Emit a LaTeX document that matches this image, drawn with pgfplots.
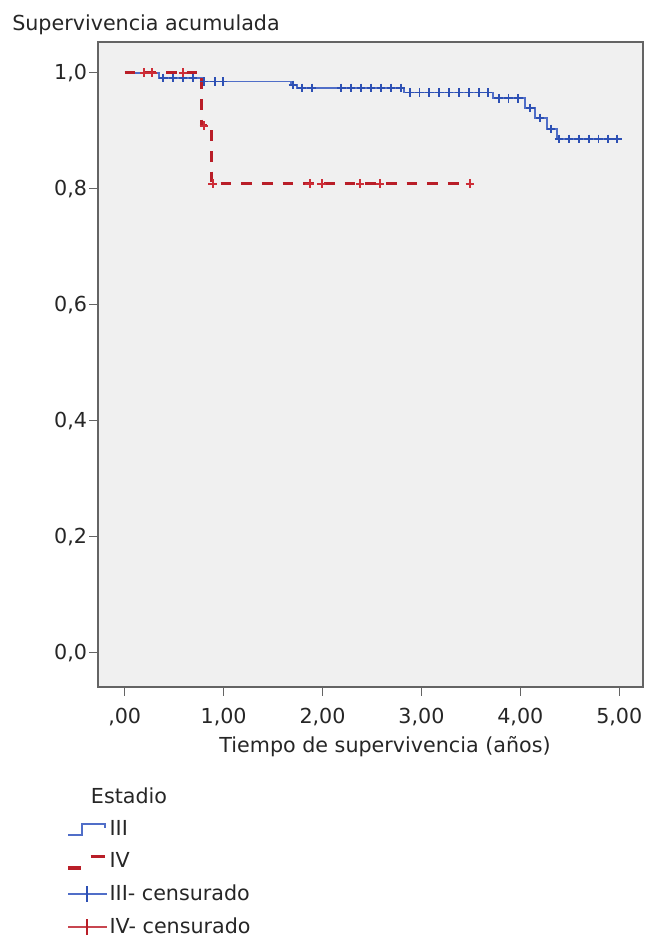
\documentclass[border=0pt]{standalone}
\usepackage{pgfplots}
\pgfplotsset{compat=1.18}
\usepackage{fontspec}
\setmainfont{DejaVu Sans}
\definecolor{bl}{RGB}{80,110,200}
\definecolor{blm}{RGB}{45,80,180}
\definecolor{rd}{RGB}{185,30,40}
\definecolor{rdm}{RGB}{205,45,55}
\definecolor{rdl}{RGB}{200,70,80}
\definecolor{bg}{RGB}{240,240,240}
\definecolor{frame}{RGB}{100,100,100}
\newcommand\f{\fontsize{15.5}{18}\selectfont}
\pgfplotsset{
  leg empty/.style={legend image code/.code={}},
  leg stepIII/.style={legend image code/.code={
    \draw[bl, line width=1.4pt] (0pt,-4.5pt) -- (10.5pt,-4.5pt) -- (10.5pt,3.5pt) -- (28pt,3.5pt) -- (28pt,0.5pt);}},
  leg stepIV/.style={legend image code/.code={
    \draw[rd, line width=2.6pt] (0pt,-5pt) -- (10pt,-5pt); \draw[rd, line width=2.6pt] (17pt,3.5pt) -- (28pt,3.5pt);}},
  leg censIII/.style={legend image code/.code={
    \draw[bl, line width=1.4pt] (0pt,0pt) -- (29pt,0pt); \draw[blm,line width=1.4pt] (14.5pt,-6pt) -- (14.5pt,6pt);}},
  leg censIV/.style={legend image code/.code={
    \draw[rdl, line width=1.4pt] (0pt,0pt) -- (29pt,0pt); \draw[rd, line width=1.4pt] (14.5pt,-6pt) -- (14.5pt,6pt);}},
}

\begin{document}
\begin{tikzpicture}
\begin{axis}[
  at={(0pt,0pt)}, anchor=south west,
  scale only axis, width=408.75pt, height=483.75pt,
  xmin=-0.27, xmax=5.24, ymin=-0.059, ymax=1.053,
  axis background/.style={fill=bg},
  axis line style={frame, line width=1.1pt},
  xtick={0,1,2,3,4,5},
  xticklabels={{,00},{1,00},{2,00},{3,00},{4,00},{5,00}},
  ytick={0,0.2,0.4,0.6,0.8,1.0},
  yticklabels={{0,0},{0,2},{0,4},{0,6},{0,8},{1,0}},
  tick align=outside, tick pos=left, major tick length=6.5pt,
  every tick/.style={frame, line width=0.8pt},
  tick label style={font=\f, text=black!85},
  /pgf/number format/assume math mode=true,
  yticklabel style={inner sep=1.5pt},
  xticklabel style={inner sep=2pt, yshift=-7.5pt},
  legend cell align=left,
  legend style={at={(axis description cs:-0.0587,-0.152)}, anchor=north west,
    draw=none, fill=none, font=\f, row sep=8.5pt, inner sep=0pt,
    nodes={inner sep=1.5pt, text=black!85}},
]
% III
\addplot[const plot, bl, line width=1.4pt, forget plot] coordinates {
  (0,1) (0.35,0.991) (0.79,0.985) (1.68,0.979) (1.74,0.974)
  (2.82,0.966) (3.72,0.956) (4.05,0.939) (4.15,0.922) (4.27,0.903)
  (4.37,0.886) (5.02,0.886)
};
\addplot[only marks, mark=+, mark size=3.2pt, blm, line width=1.4pt, forget plot] coordinates {
  (0.39,0.991) (0.49,0.991) (0.59,0.991) (0.69,0.991)
  (0.80,0.985) (0.91,0.985) (0.99,0.985)
  (1.70,0.979) (1.79,0.974) (1.89,0.974)
  (2.19,0.974) (2.29,0.974) (2.39,0.974) (2.49,0.974) (2.59,0.974) (2.69,0.974) (2.79,0.974)
  (2.88,0.966) (2.98,0.966) (3.08,0.966) (3.18,0.966) (3.28,0.966) (3.38,0.966) (3.48,0.966) (3.58,0.966) (3.67,0.966)
  (3.78,0.956) (3.88,0.956) (3.98,0.956)
  (4.10,0.939) (4.20,0.922) (4.31,0.903)
  (4.39,0.886) (4.49,0.886) (4.59,0.886) (4.69,0.886) (4.79,0.886) (4.89,0.886) (4.98,0.886)
};
% IV
\addplot[const plot, rd, line width=2.4pt, dash pattern=on 8pt off 7.5pt, forget plot] coordinates {
  (0,1) (0.78,0.909) (0.88,0.809) (3.50,0.809)
};
\addplot[only marks, mark=+, mark size=3.2pt, rdm, line width=1.5pt, forget plot] coordinates {
  (0.20,1) (0.28,1) (0.59,1)
  (0.80,0.909)
  (0.89,0.809) (1.87,0.809) (1.99,0.809) (2.38,0.809) (2.58,0.809) (3.49,0.809)
};
% legend
\addlegendimage{leg empty}
\addlegendentry{\hspace*{-14pt}Estadio}
\addlegendimage{leg stepIII}
\addlegendentry{III}
\addlegendimage{leg stepIV}
\addlegendentry{IV}
\addlegendimage{leg censIII}
\addlegendentry{III- censurado}
\addlegendimage{leg censIV}
\addlegendentry{IV- censurado}
\end{axis}
\node[anchor=base west, font=\f, text=black!85, inner sep=0pt] at ({(12-98)*0.75pt},{(687-30.5)*0.75pt}) {Supervivencia acumulada};
\node[anchor=base, font=\f, text=black!85, inner sep=0pt] at ({(385-98)*0.75pt},{(687-752)*0.75pt}) {Tiempo de supervivencia (años)};
\pgfresetboundingbox
\path[use as bounding box] (-73.5pt,-188.25pt) rectangle (412.5pt,515.25pt);
\end{tikzpicture}
\end{document}
